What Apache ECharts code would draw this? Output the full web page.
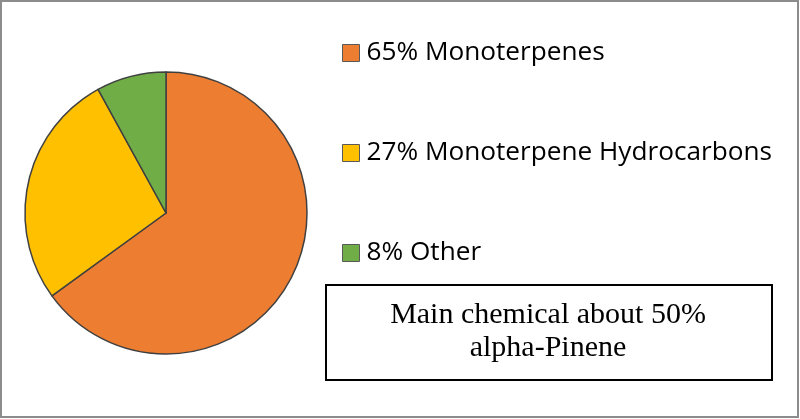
<!DOCTYPE html>
<html>
<head>
<meta charset="utf-8">
<script src="https://cdn.jsdelivr.net/npm/echarts@6/dist/echarts.min.js"></script>
<style>
html,body{margin:0;padding:0;background:#fff;}
#c{width:800px;height:419px;}
</style>
</head>
<body>
<div id="c"></div>
<script>
const categories = ['Monoterpenes', 'Monoterpene Hydrocarbons', 'Other'];
const values = [65, 27, 8];
const colors = ['#ED7D31', '#FFC000', '#70AD47'];
const noteLines = ['Main chemical about 50%', 'alpha-Pinene'];

const total = values.reduce((a, b) => a + b, 0);
const chart = echarts.init(document.getElementById('c'));
chart.setOption({
  animation: false,
  backgroundColor: '#fff',
  legend: {
    orient: 'vertical',
    left: 337,
    top: 33,
    padding: 5,
    icon: 'rect',
    itemWidth: 17,
    itemHeight: 17,
    itemGap: 70,
    itemStyle: { borderColor: '#595959', borderWidth: 1 },
    textStyle: { fontFamily: 'Open Sans', fontSize: 26.2, lineHeight: 30, color: '#000', padding: [0, 0, 0, 2] },
    formatter: function (name) {
      const i = categories.indexOf(name);
      return Math.round(values[i] / total * 100) + '% ' + name;
    },
    data: categories
  },
  series: [{
    type: 'pie',
    center: [166, 213],
    radius: 141,
    startAngle: 90,
    clockwise: true,
    label: { show: false },
    labelLine: { show: false },
    emphasis: { disabled: true },
    itemStyle: { borderColor: '#404040', borderWidth: 1.5 },
    data: categories.map((n, i) => ({ name: n, value: values[i], itemStyle: { color: colors[i] } }))
  }],
  graphic: [
    { type: 'rect', shape: { x: 1, y: 1, width: 797, height: 416 }, style: { fill: 'none', stroke: '#8c8c8c', lineWidth: 2 }, silent: true },
    { type: 'rect', shape: { x: 326, y: 285, width: 446, height: 95 }, style: { fill: '#fff', stroke: '#000', lineWidth: 2 }, silent: true },
    { type: 'text', x: 548, y: 332, style: { text: noteLines.join('\n'), fontFamily: 'Liberation Serif', fontSize: 30, lineHeight: 33, fill: '#000', align: 'center', verticalAlign: 'middle' }, silent: true }
  ]
});
</script>
</body>
</html>
